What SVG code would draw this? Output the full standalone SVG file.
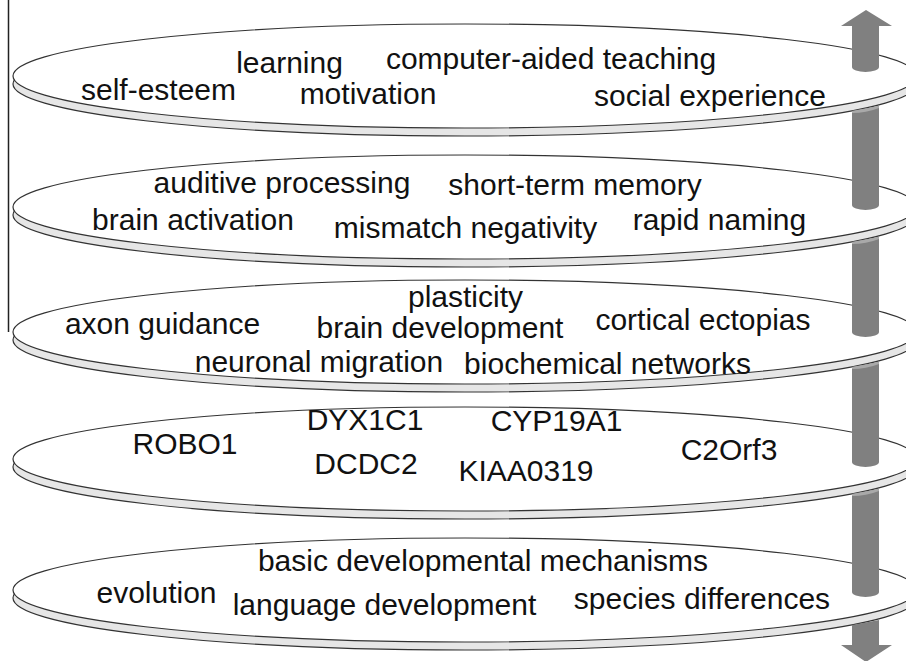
<svg xmlns="http://www.w3.org/2000/svg" width="906" height="661" viewBox="0 0 906 661">
<style>
.rim{fill:#e6e6e6;stroke:#333;stroke-width:1.2}
.top{fill:#fff;stroke:#333;stroke-width:1.2}
.lbl{font-family:"Liberation Sans",Arial,sans-serif;font-size:30px;fill:#111;text-anchor:middle}
.bar{fill:#808080}
.cap{fill:#a9a9a9}
</style>
<rect width="906" height="661" fill="#fff"/>
<line x1="8.5" y1="0" x2="8.5" y2="332" stroke="#222" stroke-width="1.5"/>

<g id="disc1">
<ellipse class="rim" cx="465" cy="84" rx="452" ry="52"/>
<ellipse class="top" cx="465" cy="76" rx="452" ry="52"/>
<text class="lbl" x="289.5" y="73">learning</text>
<text class="lbl" x="551" y="69">computer-aided teaching</text>
<text class="lbl" x="158.5" y="100">self-esteem</text>
<text class="lbl" x="368" y="104">motivation</text>
<text class="lbl" x="710" y="106">social experience</text>
</g>

<g id="disc2">
<ellipse class="rim" cx="465" cy="215" rx="452" ry="52"/>
<ellipse class="top" cx="465" cy="207" rx="452" ry="52"/>
<text class="lbl" x="282" y="193">auditive processing</text>
<text class="lbl" x="575" y="195">short-term memory</text>
<text class="lbl" x="193" y="230">brain activation</text>
<text class="lbl" x="465.5" y="238">mismatch negativity</text>
<text class="lbl" x="719.5" y="230">rapid naming</text>
</g>

<g id="disc3">
<ellipse class="rim" cx="465" cy="340" rx="452" ry="52"/>
<ellipse class="top" cx="465" cy="332" rx="452" ry="52"/>
<text class="lbl" x="465.5" y="307">plasticity</text>
<text class="lbl" x="440" y="338">brain development</text>
<text class="lbl" x="162.5" y="334">axon guidance</text>
<text class="lbl" x="703" y="330">cortical ectopias</text>
<text class="lbl" x="319" y="372">neuronal migration</text>
<text class="lbl" x="607.5" y="374">biochemical networks</text>
</g>

<g id="disc4">
<ellipse class="rim" cx="465" cy="467" rx="452" ry="52"/>
<ellipse class="top" cx="465" cy="459" rx="452" ry="52"/>
<text class="lbl" x="185" y="454">ROBO1</text>
<text class="lbl" x="365" y="430">DYX1C1</text>
<text class="lbl" x="556.5" y="431">CYP19A1</text>
<text class="lbl" x="729" y="460">C2Orf3</text>
<text class="lbl" x="366" y="474">DCDC2</text>
<text class="lbl" x="526" y="481">KIAA0319</text>
</g>

<g id="disc5">
<ellipse class="rim" cx="465" cy="598" rx="452" ry="52"/>
<ellipse class="top" cx="465" cy="590" rx="452" ry="52"/>
<text class="lbl" x="483" y="571">basic developmental mechanisms</text>
<text class="lbl" x="156.5" y="603">evolution</text>
<text class="lbl" x="384.5" y="615">language development</text>
<text class="lbl" x="702" y="609">species differences</text>
</g>

<g id="connectors">
<path class="bar" d="M866,10 L892,26 L879,26 L879,67 A13.5,5 0 0 1 852,67 L852,26 L841,26 Z"/>
<path class="bar" d="M852,111 L879,106 L879,205 A13.5,5 0 0 1 852,205 Z"/>
<path class="cap" d="M852,111 L879,106 L879,108 Q866,113 852,113 Z"/>
<path class="bar" d="M852,242 L879,237 L879,332 A13.5,5 0 0 1 852,332 Z"/>
<path class="cap" d="M852,242 L879,237 L879,239 Q866,244 852,244 Z"/>
<path class="bar" d="M852,367 L879,362 L879,462 A13.5,5 0 0 1 852,462 Z"/>
<path class="cap" d="M852,367 L879,362 L879,364 Q866,369 852,369 Z"/>
<path class="bar" d="M852,494 L879,489 L879,592 A13.5,5 0 0 1 852,592 Z"/>
<path class="cap" d="M852,494 L879,489 L879,491 Q866,496 852,496 Z"/>
<path class="bar" d="M852,625 L879,620 L879,645 L892,645 L866,662 L841,645 L852,645 Z"/>
</g>
</svg>
